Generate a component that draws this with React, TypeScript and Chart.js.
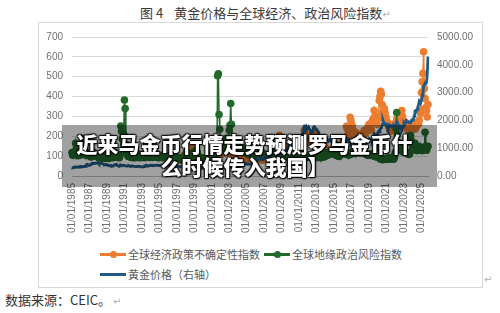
import React, { useEffect, useRef } from "react";
import { Chart, registerables } from "chart.js";

Chart.register(...registerables);

// ---------- categories (monthly, Jan 1985 - Oct 2025) ----------
const START_YEAR = 1985;
const END_YEAR = 2025;
const END_MONTH = 10;
const categories: string[] = [];
for (let y = START_YEAR; y <= END_YEAR; y++) {
  for (let m = 1; m <= 12; m++) {
    if (y === END_YEAR && m > END_MONTH) break;
    categories.push(`${y}-${String(m).padStart(2, "0")}`);
  }
}

const xTickLabels = [
  "01/01/1985", "01/01/1987", "01/01/1989", "01/01/1991", "01/01/1993",
  "01/01/1995", "01/01/1997", "01/01/1999", "01/01/2001", "01/01/2003",
  "01/01/2005", "01/01/2007", "01/01/2009", "01/01/2011", "01/01/2013",
  "01/01/2015", "01/01/2017", "01/01/2019", "01/01/2021", "01/01/2023",
  "01/01/2025",
];

const leftAxisMax = 700;
const leftAxisStep = 100;
const rightAxisMax = 5000;
const rightAxisStep = 500;

// ---------- gold price (right axis), monthly ----------
const goldPrice: number[] = [
  303, 299, 304, 325, 317, 317, 327, 330, 323, 326, 325, 322,
  345, 339, 346, 340, 342, 342, 349, 376, 418, 424, 396, 391,
  408, 401, 409, 438, 460, 449, 451, 461, 460, 465, 467, 487,
  477, 442, 443, 452, 451, 452, 437, 433, 413, 406, 420, 419,
  404, 388, 390, 384, 371, 367, 375, 365, 362, 367, 394, 410,
  410, 417, 393, 374, 369, 352, 362, 395, 388, 381, 381, 378,
  384, 364, 363, 358, 357, 367, 368, 356, 349, 358, 360, 361,
  354, 354, 344, 338, 337, 340, 353, 343, 345, 344, 335, 335,
  329, 329, 330, 342, 367, 372, 392, 378, 355, 364, 374, 383,
  387, 382, 384, 378, 381, 385, 385, 380, 391, 389, 384, 379,
  379, 376, 382, 391, 385, 387, 386, 383, 383, 383, 386, 387,
  400, 405, 396, 393, 392, 385, 383, 387, 383, 381, 378, 369,
  355, 346, 352, 344, 344, 341, 324, 324, 323, 325, 306, 289,
  289, 297, 296, 308, 299, 292, 293, 284, 289, 296, 294, 291,
  287, 287, 286, 282, 277, 261, 256, 257, 265, 311, 293, 283,
  284, 300, 286, 280, 275, 286, 282, 274, 273, 270, 266, 272,
  266, 262, 263, 261, 272, 270, 268, 273, 283, 283, 276, 276,
  282, 295, 294, 302, 314, 321, 314, 310, 319, 317, 319, 333,
  357, 359, 340, 328, 355, 356, 351, 360, 378, 379, 389, 407,
  414, 405, 406, 404, 384, 392, 398, 400, 405, 420, 439, 442,
  424, 423, 434, 429, 422, 431, 424, 438, 456, 470, 476, 510,
  549, 555, 557, 610, 676, 596, 633, 632, 598, 586, 628, 629,
  631, 665, 655, 679, 667, 655, 665, 665, 713, 754, 807, 803,
  889, 922, 968, 909, 888, 890, 939, 839, 830, 806, 760, 816,
  858, 943, 924, 890, 928, 945, 934, 949, 996, 1043, 1127, 1135,
  1118, 1095, 1114, 1149, 1205, 1232, 1193, 1215, 1271, 1343, 1370, 1392,
  1356, 1372, 1424, 1474, 1512, 1529, 1573, 1780, 1850, 1700, 1760, 1680,
  1680, 1760, 1690, 1660, 1590, 1600, 1600, 1630, 1760, 1770, 1730, 1700,
  1680, 1630, 1600, 1490, 1414, 1343, 1286, 1347, 1349, 1316, 1275, 1221,
  1244, 1300, 1336, 1299, 1287, 1279, 1311, 1296, 1239, 1222, 1176, 1200,
  1251, 1227, 1179, 1198, 1199, 1181, 1128, 1117, 1125, 1159, 1087, 1068,
  1097, 1199, 1246, 1242, 1260, 1276, 1337, 1340, 1326, 1266, 1238, 1157,
  1192, 1234, 1231, 1266, 1246, 1260, 1236, 1283, 1315, 1280, 1283, 1265,
  1331, 1331, 1325, 1335, 1304, 1282, 1238, 1202, 1198, 1215, 1221, 1250,
  1291, 1320, 1300, 1286, 1284, 1359, 1413, 1500, 1510, 1495, 1471, 1480,
  1560, 1597, 1591, 1683, 1716, 1732, 1847, 2020, 1940, 1900, 1866, 1858,
  1867, 1808, 1718, 1760, 1850, 1834, 1807, 1785, 1776, 1777, 1821, 1790,
  1817, 1856, 1948, 1937, 1849, 1836, 1732, 1765, 1681, 1665, 1726, 1798,
  1898, 1854, 1912, 2000, 1992, 1943, 1951, 1918, 1916, 1916, 1985, 2028,
  2034, 2023, 2159, 2331, 2351, 2326, 2398, 2472, 2571, 2690, 2651, 2648,
  2709, 2895, 2983, 3213, 3280, 3352, 3340, 3368, 3667, 4300,
];

// ---------- global geopolitical risk index (left axis), monthly ----------
const gprIndex: number[] = [
  118, 105, 112, 120, 108, 165, 140, 110, 102, 135, 112, 105,
  120, 110, 128, 190, 150, 125, 110, 104, 118, 112, 108, 102,
  108, 100, 96, 98, 122, 105, 118, 112, 106, 110, 98, 100,
  96, 92, 98, 110, 94, 90, 102, 96, 88, 92, 95, 98,
  90, 96, 88, 92, 100, 110, 98, 94, 92, 96, 104, 118,
  108, 96, 100, 94, 98, 92, 104, 252, 225, 185, 195, 210,
  383, 340, 160, 120, 108, 100, 98, 110, 96, 104, 98, 92,
  96, 94, 100, 92, 98, 104, 96, 110, 100, 92, 96, 104,
  108, 100, 96, 92, 98, 94, 102, 96, 100, 110, 98, 94,
  100, 108, 96, 94, 98, 104, 100, 96, 112, 108, 96, 92,
  94, 98, 100, 104, 96, 92, 98, 104, 100, 96, 94, 98,
  92, 96, 98, 104, 100, 108, 96, 104, 112, 98, 94, 92,
  90, 86, 92, 88, 84, 90, 86, 82, 88, 84, 90, 96,
  100, 118, 104, 90, 96, 92, 98, 104, 92, 88, 94, 120,
  96, 92, 125, 130, 118, 104, 92, 86, 90, 84, 88, 92,
  86, 82, 84, 80, 84, 86, 82, 80, 84, 96, 90, 86,
  92, 104, 98, 96, 90, 94, 92, 88, 505, 515, 310, 235,
  175, 160, 165, 150, 140, 130, 135, 150, 190, 170, 165, 175,
  230, 255, 365, 260, 170, 150, 145, 135, 140, 130, 150, 145,
  140, 125, 160, 150, 140, 130, 135, 125, 140, 125, 130, 120,
  118, 115, 110, 112, 108, 125, 160, 118, 112, 110, 108, 104,
  104, 110, 108, 112, 106, 108, 140, 130, 112, 118, 110, 104,
  112, 108, 106, 104, 100, 102, 106, 100, 98, 104, 100, 96,
  100, 96, 98, 94, 96, 100, 98, 104, 96, 92, 110, 100,
  104, 96, 92, 98, 104, 96, 100, 94, 98, 104, 100, 110,
  108, 96, 100, 94, 98, 96, 92, 94, 90, 96, 104, 100,
  96, 104, 110, 96, 102, 94, 90, 94, 96, 92, 94, 98,
  100, 96, 104, 98, 94, 96, 92, 88, 96, 92, 98, 94,
  92, 96, 98, 104, 100, 94, 92, 106, 112, 100, 96, 98,
  100, 104, 118, 112, 106, 110, 122, 118, 126, 120, 114, 110,
  118, 112, 106, 104, 108, 102, 100, 98, 104, 110, 140, 130,
  120, 114, 124, 112, 110, 116, 120, 108, 104, 110, 108, 114,
  118, 112, 116, 128, 118, 120, 114, 130, 132, 124, 120, 118,
  116, 118, 124, 126, 120, 118, 114, 112, 108, 110, 106, 104,
  108, 110, 104, 106, 112, 108, 104, 100, 104, 100, 96, 98,
  150, 104, 96, 88, 84, 90, 86, 82, 84, 88, 86, 84,
  88, 86, 90, 84, 92, 88, 86, 94, 90, 84, 86, 96,
  118, 240, 320, 210, 170, 150, 135, 130, 128, 140, 125, 120,
  124, 130, 118, 122, 116, 112, 110, 108, 114, 205, 180, 160,
  150, 140, 135, 165, 140, 130, 128, 136, 142, 150, 138, 130,
  135, 128, 130, 140, 136, 220, 150, 130, 145, 150,
];

// ---------- global economic policy uncertainty index (left axis), monthly from Jan 1997 ----------
const EPU_START_OFFSET = 144; // months before Jan 1997
const epuIndex: number[] = [
  88, 82, 86, 80, 92, 84, 78, 86, 90, 98, 104, 96,
  92, 88, 84, 86, 96, 102, 98, 120, 140, 135, 112, 104,
  98, 92, 96, 94, 88, 86, 84, 82, 86, 80, 78, 84,
  80, 76, 82, 86, 90, 84, 80, 78, 82, 86, 92, 96,
  104, 110, 118, 112, 108, 104, 110, 118, 160, 150, 135, 128,
  122, 118, 110, 112, 116, 120, 132, 128, 130, 126, 118, 122,
  134, 140, 152, 130, 120, 112, 108, 104, 110, 100, 98, 96,
  94, 92, 98, 96, 104, 100, 98, 96, 94, 100, 92, 90,
  88, 86, 90, 92, 96, 88, 94, 86, 92, 90, 84, 82,
  80, 84, 82, 86, 90, 94, 98, 88, 84, 82, 80, 86,
  84, 86, 92, 88, 84, 82, 90, 110, 104, 96, 102, 108,
  122, 118, 130, 120, 112, 118, 125, 128, 175, 205, 195, 190,
  180, 175, 170, 162, 155, 150, 146, 140, 136, 132, 140, 138,
  130, 134, 128, 136, 160, 155, 148, 140, 136, 142, 150, 146,
  140, 138, 150, 148, 152, 160, 180, 230, 215, 205, 190, 185,
  180, 176, 170, 184, 200, 210, 198, 192, 188, 195, 205, 215,
  180, 168, 172, 162, 150, 158, 154, 148, 160, 170, 152, 148,
  140, 138, 130, 126, 118, 112, 120, 124, 128, 136, 130, 134,
  142, 136, 130, 128, 132, 138, 150, 155, 148, 140, 144, 146,
  170, 176, 160, 156, 168, 250, 240, 210, 200, 230, 295, 280,
  260, 250, 230, 218, 222, 210, 206, 215, 204, 200, 196, 190,
  180, 178, 190, 196, 210, 225, 230, 214, 222, 230, 240, 250,
  260, 250, 238, 232, 272, 280, 290, 330, 300, 295, 270, 260,
  300, 290, 380, 400, 427, 413, 360, 322, 330, 340, 320, 300,
  280, 272, 260, 250, 240, 230, 226, 232, 246, 252, 260, 258,
  260, 270, 288, 280, 275, 290, 272, 260, 322, 330, 300, 278,
  270, 260, 272, 250, 240, 236, 230, 228, 244, 260, 252, 248,
  250, 246, 240, 236, 244, 250, 258, 270, 262, 280, 330, 315,
  420, 475, 517, 626, 440, 390, 345, 330, 297, 360,
];
const epuSeries: (number | null)[] = (new Array(EPU_START_OFFSET).fill(null) as (number | null)[]).concat(epuIndex);

// ---------- labels & colours ----------
const TITLE_NO = "图 4";
const TITLE = "黄金价格与全球经济、政治风险指数";
const SERIES_EPU = "全球经济政策不确定性指数";
const SERIES_GPR = "全球地缘政治风险指数";
const SERIES_GOLD = "黄金价格（右轴）";
const SOURCE = "数据来源：CEIC。";
const BANNER_L1 = "近来马金币行情走势预测罗马金币什";
const BANNER_L2 = "么时候传入我国】";

const ORANGE = "#ed7d31";
const GREEN = "#236b2c";
const BLUE = "#1f5b86";
const TICK_COLOR = "#6f6f6f";
const CJK = '"Noto Sans CJK SC", "Noto Sans", sans-serif';
const LATIN = '"Liberation Sans", Arial, sans-serif';

const tickByCategory = new Map<string, string>(
  xTickLabels.map((t) => [t.slice(6) + "-01", t])
);

function LegendMarker({ color, dot }: { color: string; dot: boolean }) {
  return (
    <span style={{ position: "relative", display: "inline-block", width: 26, height: 10, marginRight: 2 }}>
      <span style={{ position: "absolute", left: 0, top: 4, width: 26, height: 2.5, background: color }} />
      {dot && (
        <span
          style={{
            position: "absolute",
            left: 9.5,
            top: 1.5,
            width: 7,
            height: 7,
            borderRadius: "50%",
            background: color,
          }}
        />
      )}
    </span>
  );
}

export default function App() {
  const canvasRef = useRef<HTMLCanvasElement>(null);

  useEffect(() => {
    const canvas = canvasRef.current;
    if (!canvas) return;
    const chart = new Chart(canvas, {
      type: "line",
      data: {
        labels: categories,
        datasets: [
          {
            label: SERIES_GOLD,
            data: goldPrice,
            yAxisID: "y1",
            borderColor: BLUE,
            backgroundColor: BLUE,
            borderWidth: 2.8,
            pointRadius: 0,
            order: 0,
          },
          {
            label: SERIES_GPR,
            data: gprIndex,
            yAxisID: "y",
            borderColor: GREEN,
            backgroundColor: GREEN,
            borderWidth: 1.5,
            pointRadius: 3.8,
            pointBorderWidth: 0,
            pointBackgroundColor: GREEN,
            order: 1,
          },
          {
            label: SERIES_EPU,
            data: epuSeries,
            yAxisID: "y",
            borderColor: ORANGE,
            backgroundColor: ORANGE,
            borderWidth: 1.5,
            pointRadius: 3.8,
            pointBorderWidth: 0,
            pointBackgroundColor: ORANGE,
            order: 2,
          },
        ],
      },
      options: {
        responsive: false,
        animation: false,
        events: [],
        layout: { padding: { top: 14, left: 0, right: 0, bottom: 0 } },
        plugins: { legend: { display: false }, tooltip: { enabled: false } },
        scales: {
          x: {
            type: "category",
            grid: { display: false, drawTicks: false },
            border: { display: true, color: "#bfbfbf", width: 1 },
            ticks: {
              autoSkip: false,
              minRotation: 90,
              maxRotation: 90,
              padding: 7,
              color: TICK_COLOR,
              font: { family: LATIN, size: 10 },
              callback: (_v: any, i: number) => tickByCategory.get(categories[i]) ?? null,
            },
            afterFit: (s: any) => {
              s.height = 60;
            },
          },
          y: {
            position: "left",
            min: 0,
            max: leftAxisMax,
            grid: { color: "#d9d9d9", drawTicks: false, lineWidth: 1 },
            border: { display: false },
            ticks: {
              stepSize: leftAxisStep,
              padding: 9,
              color: TICK_COLOR,
              font: { family: LATIN, size: 10 },
            },
            afterFit: (s: any) => {
              s.width = 34;
            },
          },
          y1: {
            position: "right",
            min: 0,
            max: rightAxisMax,
            grid: { drawOnChartArea: false, drawTicks: false },
            border: { display: false },
            ticks: {
              stepSize: rightAxisStep,
              padding: 9,
              color: TICK_COLOR,
              font: { family: LATIN, size: 10 },
              callback: (v: any) => Number(v).toFixed(2),
            },
            afterFit: (s: any) => {
              s.width = 55;
            },
          },
        },
      },
    } as any);
    return () => chart.destroy();
  }, []);

  return (
    <div
      style={{
        position: "absolute",
        left: 0,
        top: 0,
        width: 500,
        height: 313,
        background: "#ffffff",
        overflow: "hidden",
        fontFamily: CJK,
      }}
    >
      {/* title */}
      <div
        style={{
          position: "absolute",
          left: 140,
          top: 5,
          height: 16,
          lineHeight: "16px",
          fontSize: 13,
          color: "#3a3a3a",
          whiteSpace: "nowrap",
        }}
      >
        <span>{TITLE_NO}</span>
        <span style={{ marginLeft: 11 }}>{TITLE}</span>
        <span style={{ color: "#b0b0b0", fontSize: 10, fontFamily: '"DejaVu Sans", sans-serif' }}>↵</span>
      </div>

      {/* chart box */}
      <div
        style={{
          position: "absolute",
          left: 38,
          top: 22,
          width: 445,
          height: 266,
          boxSizing: "border-box",
          border: "1px solid #d9d9d9",
        }}
      />
      <canvas
        ref={canvasRef}
        width={445}
        height={214}
        style={{ position: "absolute", left: 38, top: 22, width: 445, height: 214 }}
      />

      {/* legend */}
      <div
        style={{
          position: "absolute",
          left: 100,
          top: 246,
          height: 16,
          display: "flex",
          alignItems: "center",
          fontSize: 11,
          color: "#595959",
          whiteSpace: "nowrap",
        }}
      >
        <LegendMarker color={ORANGE} dot />
        <span style={{ marginRight: 4 }}>{SERIES_EPU}</span>
        <LegendMarker color={GREEN} dot />
        <span>{SERIES_GPR}</span>
      </div>
      <div
        style={{
          position: "absolute",
          left: 100,
          top: 266,
          height: 16,
          display: "flex",
          alignItems: "center",
          fontSize: 11,
          color: "#595959",
          whiteSpace: "nowrap",
        }}
      >
        <LegendMarker color={BLUE} dot={false} />
        <span>{SERIES_GOLD}</span>
      </div>
      <div
        style={{
          position: "absolute",
          left: 484,
          top: 274,
          fontSize: 10,
          color: "#b0b0b0",
          fontFamily: '"DejaVu Sans", sans-serif',
        }}
      >
        ↵
      </div>

      {/* source */}
      <div
        style={{
          position: "absolute",
          left: 5,
          top: 292,
          height: 16,
          lineHeight: "16px",
          fontSize: 13,
          color: "#333333",
          whiteSpace: "nowrap",
        }}
      >
        {SOURCE}
        <span style={{ color: "#b0b0b0", fontSize: 10, marginLeft: 2, fontFamily: '"DejaVu Sans", sans-serif' }}>↵</span>
      </div>

      {/* overlay banner */}
      <div
        style={{
          position: "absolute",
          left: 62,
          top: 125,
          width: 375,
          height: 62,
          boxSizing: "border-box",
          paddingTop: 7,
          paddingRight: 10,
          background: "rgba(0,0,0,0.37)",
          color: "#ffffff",
          fontSize: 21,
          fontWeight: 900,
          lineHeight: "23px",
          textAlign: "center",
          whiteSpace: "nowrap",
          textShadow:
            "0 0 3px #000, 1px 1px 1px #000, -1px -1px 1px rgba(0,0,0,0.7), 1px -1px 1px rgba(0,0,0,0.7), -1px 1px 1px rgba(0,0,0,0.7)",
        }}
      >
        {BANNER_L1}
        <br />
        {BANNER_L2}
      </div>
    </div>
  );
}
